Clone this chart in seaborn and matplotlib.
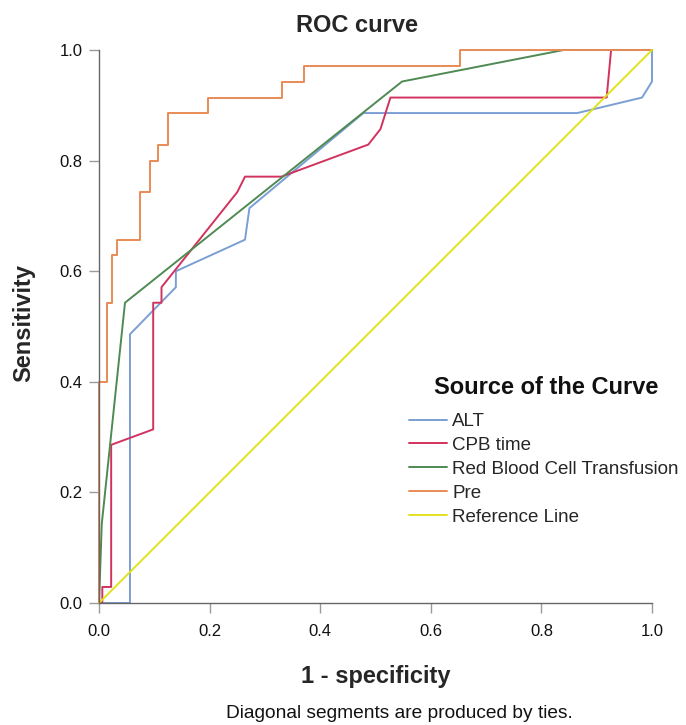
import matplotlib
matplotlib.use("Agg")
import matplotlib.pyplot as plt
import seaborn as sns
import pandas as pd

# ---- data ----
curves = ["ALT", "CPB time", "Red Blood Cell Transfusion", "Pre", "Reference Line"]

alt_fpr = [0.0, 0.056, 0.056, 0.139, 0.139, 0.264, 0.272, 0.478, 0.865, 0.982, 1.0, 1.0]
alt_tpr = [0.0, 0.0, 0.486, 0.571, 0.600, 0.657, 0.714, 0.886, 0.886, 0.914, 0.943, 1.0]

cpb_fpr = [0.0, 0.006, 0.006, 0.022, 0.022, 0.098, 0.098, 0.113, 0.113, 0.250, 0.264,
           0.330, 0.487, 0.509, 0.527, 0.918, 0.926, 1.0]
cpb_tpr = [0.0, 0.0, 0.029, 0.029, 0.286, 0.314, 0.543, 0.543, 0.571, 0.743, 0.771,
           0.771, 0.829, 0.857, 0.914, 0.914, 1.0, 1.0]

rbc_fpr = [0.0, 0.005, 0.047, 0.548, 0.840, 1.0]
rbc_tpr = [0.0, 0.143, 0.543, 0.943, 1.0, 1.0]

pre_fpr = [0.0, 0.0, 0.014, 0.014, 0.023, 0.023, 0.032, 0.032, 0.074, 0.074, 0.092, 0.092,
           0.107, 0.107, 0.124, 0.124, 0.198, 0.198, 0.331, 0.331, 0.370, 0.370, 0.653,
           0.653, 1.0]
pre_tpr = [0.0, 0.400, 0.400, 0.543, 0.543, 0.629, 0.629, 0.657, 0.657, 0.743, 0.743, 0.800,
           0.800, 0.829, 0.829, 0.886, 0.886, 0.914, 0.914, 0.943, 0.943, 0.971, 0.971,
           1.0, 1.0]

ref_fpr = [0.0, 1.0]
ref_tpr = [0.0, 1.0]

colors = ["#7b9fd3", "#d2325e", "#4f8a52", "#e98a55", "#e2e21e"]

xticks = [0.0, 0.2, 0.4, 0.6, 0.8, 1.0]
yticks = [0.0, 0.2, 0.4, 0.6, 0.8, 1.0]

# ---- build long table ----
frames = []
for name, fx, fy in zip(curves,
                        [alt_fpr, cpb_fpr, rbc_fpr, pre_fpr, ref_fpr],
                        [alt_tpr, cpb_tpr, rbc_tpr, pre_tpr, ref_tpr]):
    frames.append(pd.DataFrame({"fpr": fx, "tpr": fy, "curve": name,
                                "step": range(len(fx))}))
df = pd.concat(frames, ignore_index=True)

sns.set_theme(style="white")
plt.rcParams["font.family"] = ["Liberation Sans", "DejaVu Sans"]

W, H = 686, 725
fig = plt.figure(figsize=(W / 100, H / 100), dpi=100)
ax = fig.add_axes([99 / W, 1 - 603 / H, 553 / W, 553 / H])

sns.lineplot(data=df, x="fpr", y="tpr", hue="curve", hue_order=curves,
             palette=dict(zip(curves, colors)), estimator=None, sort=False,
             linewidth=1.4, ax=ax)
for ln in ax.lines:
    ln.set_clip_on(False)

ax.set_xlim(0, 1)
ax.set_ylim(0, 1)
ax.set_xticks(xticks)
ax.set_yticks(yticks)
ax.set_xticklabels([f"{t:.1f}" for t in xticks])
ax.set_yticklabels([f"{t:.1f}" for t in yticks])
ax.tick_params(axis="both", direction="out", length=7, width=1, color="#9a9a9a",
               labelsize=12, labelcolor="#111111", pad=5, left=True, bottom=True)
ax.tick_params(axis="x", pad=8)

for side in ["top", "right"]:
    ax.spines[side].set_visible(False)
for side in ["left", "bottom"]:
    ax.spines[side].set_color("#666666")
    ax.spines[side].set_linewidth(1.0)

ax.set_xlabel("1 - specificity", fontsize=17, fontweight="bold", va="center")
ax.xaxis.set_label_coords(0.5, (603 - 677) / 553)
ax.set_ylabel("Sensitivity", fontsize=17, fontweight="bold", va="center")
ax.yaxis.set_label_coords((24 - 99) / 553, 0.506)

ax.set_title("ROC curve", fontsize=17, fontweight="bold", pad=0,
             x=(357.5 - 99) / 553, y=(603 - 26) / 553, va="center")

sns.move_legend(ax, "upper left", bbox_to_anchor=(409 / W, 1 - 413 / H),
                bbox_transform=fig.transFigure, title=None,
                frameon=False, fontsize=13.5,
                handlelength=2.0, handletextpad=0.3, labelspacing=0.36,
                borderpad=0, borderaxespad=0)
fig.text(546.5 / W, 1 - 387 / H, "Source of the Curve", fontsize=17,
         fontweight="bold", ha="center", va="center", color="#111111")

fig.text(399 / W, 1 - 713 / H, "Diagonal segments are produced by ties.",
         fontsize=13.8, ha="center", va="center", color="#111111")

fig.savefig("out.png", dpi=100)
